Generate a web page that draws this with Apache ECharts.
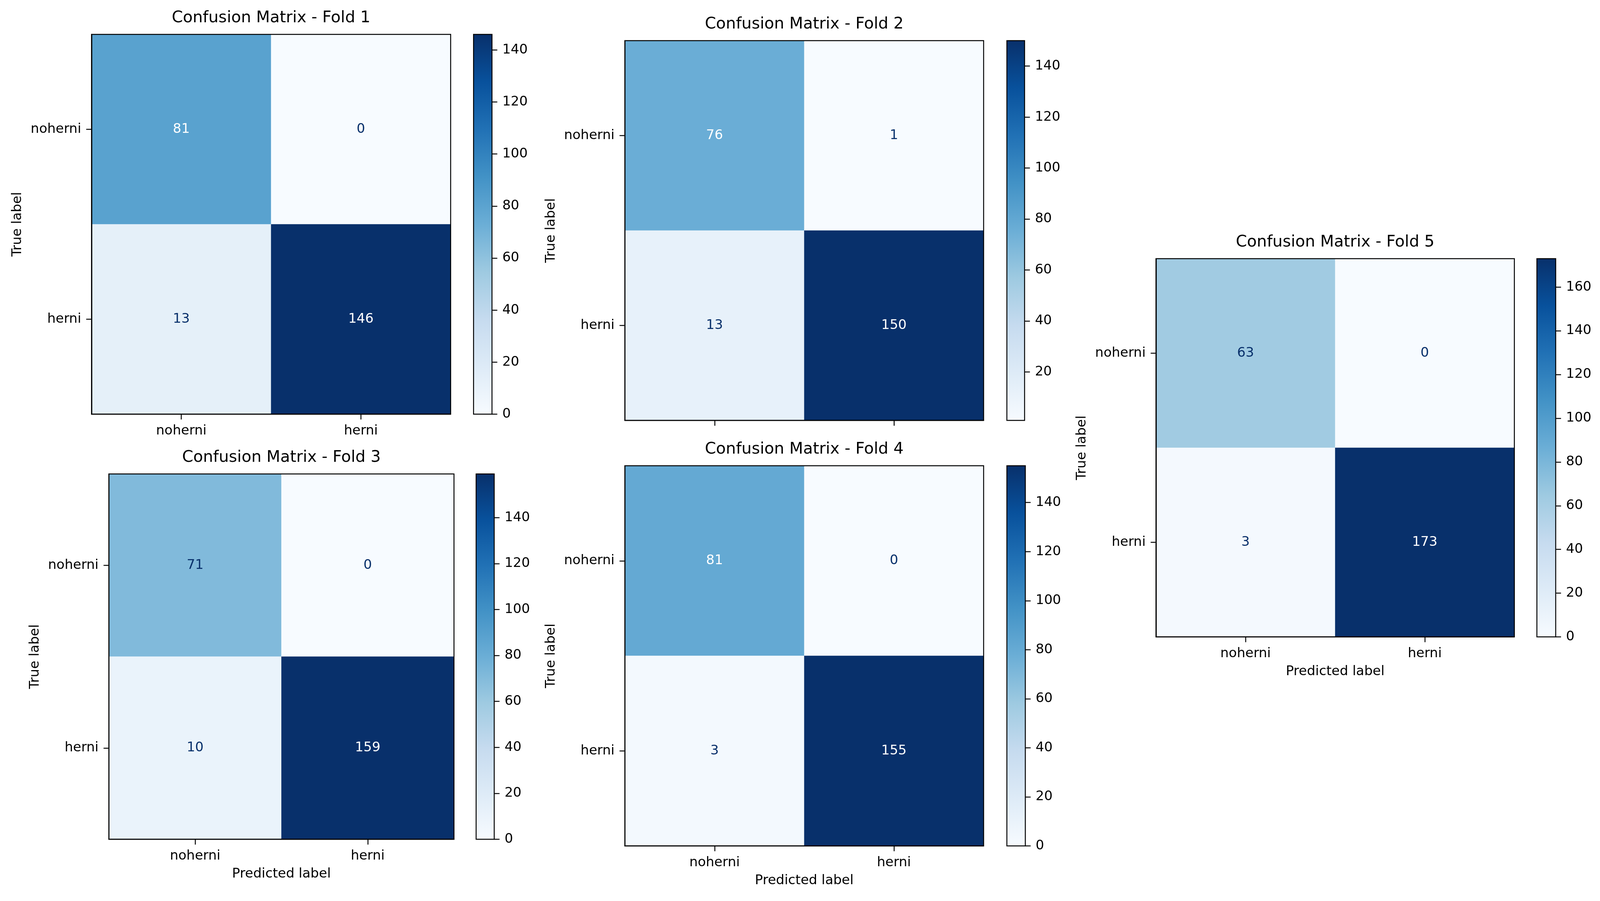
<!DOCTYPE html>
<html><head><meta charset="utf-8">
<script src="https://cdn.jsdelivr.net/npm/echarts@6/dist/echarts.min.js"></script>
<style>html,body{margin:0;padding:0;background:#fff;overflow:hidden}#c{width:100vw;height:100vh}</style>
</head><body><div id="c"></div>
<script>
// ---- data ----
const classLabels = ['noherni', 'herni'];
const foldTitles = ['Confusion Matrix - Fold 1', 'Confusion Matrix - Fold 2', 'Confusion Matrix - Fold 3', 'Confusion Matrix - Fold 4', 'Confusion Matrix - Fold 5'];
const fold1 = [[81, 0], [13, 146]];
const fold2 = [[76, 1], [13, 150]];
const fold3 = [[71, 0], [10, 159]];
const fold4 = [[81, 0], [3, 155]];
const fold5 = [[63, 0], [3, 173]];
const cbTicks1 = [0, 20, 40, 60, 80, 100, 120, 140];
const cbTicks2 = [20, 40, 60, 80, 100, 120, 140];
const cbTicks3 = [0, 20, 40, 60, 80, 100, 120, 140];
const cbTicks4 = [0, 20, 40, 60, 80, 100, 120, 140];
const cbTicks5 = [0, 20, 40, 60, 80, 100, 120, 140, 160];
const xAxisName = 'Predicted label';
const yAxisName = 'True label';

// ---- style / layout (designed for a 4335 x 2306 canvas, scaled to the real size) ----
const BLUES = ['#f7fbff', '#deebf7', '#c6dbef', '#9ecae1', '#6baed6', '#4292c6', '#2171b5', '#08519c', '#08306b'];
const FONT = 'DejaVu Sans';
const panels = [
  {m: fold1, ticks: cbTicks1, title: foldTitles[0], g: [248, 88, 973, 972], cb: [1283, 88, 50, 972], xLabels: true, xName: false},
  {m: fold2, ticks: cbTicks2, title: foldTitles[1], g: [1693, 104, 972, 972], cb: [2728, 104, 48, 972], xLabels: false, xName: false},
  {m: fold3, ticks: cbTicks3, title: foldTitles[2], g: [295, 1213, 935, 935], cb: [1290, 1213, 49, 935], xLabels: true, xName: true},
  {m: fold4, ticks: cbTicks4, title: foldTitles[3], g: [1693, 1192, 972, 973], cb: [2728, 1192, 50, 973], xLabels: true, xName: true},
  {m: fold5, ticks: cbTicks5, title: foldTitles[4], g: [3132, 662, 971, 968], cb: [4164, 662, 51, 968], xLabels: true, xName: true}
];

const chart = echarts.init(document.getElementById('c'), null, {renderer: 'canvas'});
const sx = chart.getWidth() / 4335, sy = chart.getHeight() / 2306;
const s = (sx + sy) / 2;
const FS = 35 * s, TFS = 42 * s, LW = 2.5 * s, TL = 14 * s;
const option = {
  backgroundColor: '#fff', animation: false,
  textStyle: {fontFamily: FONT},
  title: [], grid: [], xAxis: [], yAxis: [], series: [], visualMap: []
};
const gradStops = BLUES.map((c, i) => ({offset: i / (BLUES.length - 1), color: c}));

panels.forEach((p, k) => {
  const flat = p.m.flat();
  const vmin = Math.min(...flat), vmax = Math.max(...flat);
  const thr = (vmin + vmax) / 2;
  const gl = p.g[0] * sx, gt = p.g[1] * sy, gw = p.g[2] * sx, gh = p.g[3] * sy;
  const cl = p.cb[0] * sx, ct = p.cb[1] * sy, cw = p.cb[2] * sx, ch = p.cb[3] * sy;
  option.title.push({
    text: p.title, left: gl + gw / 2, top: gt - 62 * sy, textAlign: 'center', padding: 0,
    textStyle: {fontFamily: FONT, fontSize: TFS, fontWeight: 'normal', color: '#000'}
  });
  option.grid.push({left: gl, top: gt, width: gw, height: gh, show: true, borderColor: '#000', borderWidth: LW, backgroundColor: 'transparent', z: 10});
  option.grid.push({left: cl, top: ct, width: cw, height: ch});
  const gi = 2 * k, ci = 2 * k + 1;
  option.xAxis.push({
    type: 'category', gridIndex: gi, data: classLabels, position: 'bottom', z: 10,
    axisLine: {show: true, lineStyle: {color: '#000', width: LW}},
    axisTick: {show: true, alignWithLabel: true, length: TL, lineStyle: {color: '#000', width: LW}},
    axisLabel: {show: p.xLabels, color: '#000', fontSize: FS, fontFamily: FONT, margin: 26 * sy},
    splitLine: {show: false},
    name: p.xName ? xAxisName : '', nameLocation: 'middle', nameGap: 72 * sy,
    nameTextStyle: {color: '#000', fontSize: FS, fontFamily: FONT}
  });
  option.xAxis.push({type: 'category', gridIndex: ci, data: [''], show: false});
  option.yAxis.push({
    type: 'category', gridIndex: gi, data: classLabels, inverse: true, position: 'left', z: 10,
    axisLine: {show: true, lineStyle: {color: '#000', width: LW}},
    axisTick: {show: true, alignWithLabel: true, length: TL, lineStyle: {color: '#000', width: LW}},
    axisLabel: {color: '#000', fontSize: FS, fontFamily: FONT, margin: 28 * sx},
    splitLine: {show: false},
    name: yAxisName, nameLocation: 'middle', nameGap: 182 * sx,
    nameTextStyle: {color: '#000', fontSize: FS, fontFamily: FONT}
  });
  option.yAxis.push({
    type: 'value', gridIndex: ci, position: 'right', min: vmin, max: vmax, z: 10,
    axisLine: {show: false},
    axisTick: {show: true, length: TL, customValues: p.ticks, lineStyle: {color: '#000', width: LW}},
    axisLabel: {color: '#000', fontSize: FS, fontFamily: FONT, margin: 28 * sx, customValues: p.ticks},
    splitLine: {show: false}
  });
  const data = [];
  p.m.forEach((row, i) => row.forEach((v, j) => {
    data.push({value: [j, i, v], label: {color: v > thr ? '#ffffff' : '#08306b'}});
  }));
  option.series.push({
    type: 'heatmap', xAxisIndex: gi, yAxisIndex: gi, data: data,
    label: {show: true, fontSize: FS, fontFamily: FONT, formatter: (q) => String(q.value[2])},
    emphasis: {disabled: true}, itemStyle: {borderWidth: 0}
  });
  option.visualMap.push({
    type: 'continuous', show: false, seriesIndex: option.series.length - 1, dimension: 2,
    min: vmin, max: vmax, inRange: {color: BLUES}
  });
  option.series.push({
    type: 'custom', xAxisIndex: ci, yAxisIndex: ci, data: [[0, vmin, vmax]],
    encode: {x: 0, y: [1, 2]}, silent: true,
    renderItem: function (params, api) {
      const topP = api.coord([0, api.value(2)]);
      const botP = api.coord([0, api.value(1)]);
      const w = api.size([1, 0])[0];
      return {
        type: 'rect',
        shape: {x: topP[0] - w / 2, y: topP[1], width: w, height: botP[1] - topP[1]},
        style: {fill: new echarts.graphic.LinearGradient(0, 1, 0, 0, gradStops), stroke: '#000', lineWidth: LW}
      };
    }
  });
});
chart.setOption(option);
</script></body></html>
